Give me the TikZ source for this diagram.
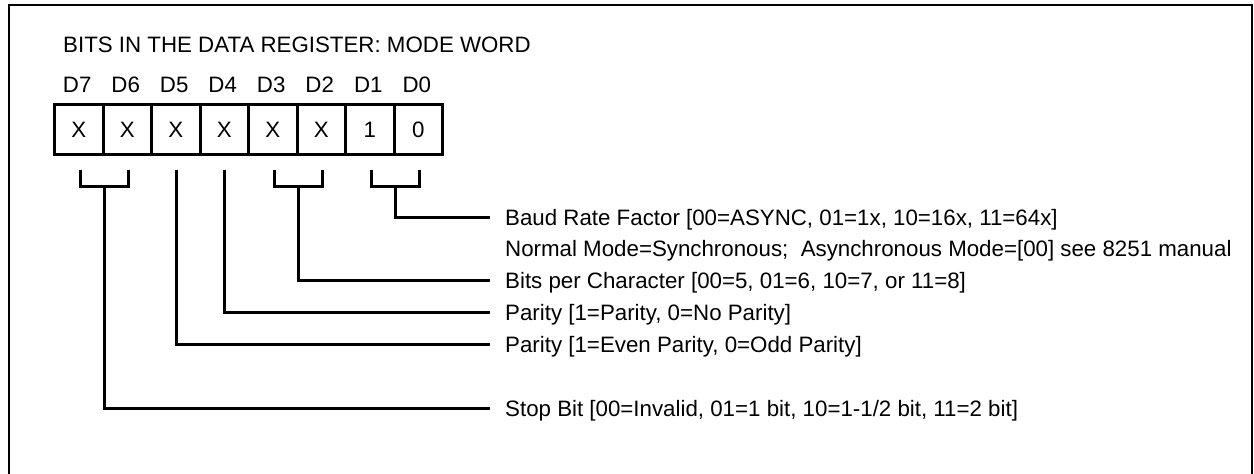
\documentclass[tikz,border=0pt]{standalone}
\usepackage{fontspec}
\setmainfont{Liberation Sans}
\usetikzlibrary{calc}
\begin{document}
\begin{tikzpicture}[x=1pt,y=-1pt,
  every node/.style={font=\fontsize{22.3pt}{26pt}\selectfont},
  cell/.style={draw,line width=3pt,minimum width=48.5pt,minimum height=50pt,inner sep=0pt,anchor=north west},
  bitname/.style={anchor=base},
  lbl/.style={anchor=west,inner xsep=17pt,inner ysep=0pt,text height=16pt,text depth=0pt},
  wire/.style={line width=3pt,line cap=rect}]
  \useasboundingbox (0,0) rectangle (1254,474);
  % open frame
  \draw[line width=2pt] (8.5,474) -- (8.5,5) -- (1252,5) -- (1252,474);
  % heading
  \node[anchor=base west,inner sep=0pt] (title) at (63,52) {BITS IN THE DATA REGISTER: MODE WORD};
  % register cells, D7 on the left
  \foreach \v/\n [count=\i from 0] in {X/7,X/6,X/5,X/4,X/3,X/2,1/1,0/0} {
    \node[cell] (b\n) at (53+48.5*\i,103) {\v};
    \node[bitname] (d\n) at (77.25+48.5*\i,92) {D\n};
  }
  % descriptions
  \node[lbl] (baud)  at (488,217) {Baud Rate Factor [00=ASYNC, 01=1x, 10=16x, 11=64x]};
  \node[lbl] (mode)  at (488,248) {Normal Mode=Synchronous;\ \ Asynchronous Mode=[00] see 8251 manual};
  \node[lbl] (chars) at (488,280) {Bits per Character [00=5, 01=6, 10=7, or 11=8]};
  \node[lbl] (par)   at (488,312) {Parity [1=Parity, 0=No Parity]};
  \node[lbl] (even)  at (488,344) {Parity [1=Even Parity, 0=Odd Parity]};
  \node[lbl] (stop)  at (488,408) {Stop Bit [00=Invalid, 01=1 bit, 10=1-1/2 bit, 11=2 bit]};
  % brackets under the cells
  \foreach \a/\b in {7/6,3/2,1/0} {
    \draw[wire] ($(b\a.south)+(1.5,15)$) -- ($(b\a.south)+(1.5,30)$) -- ($(b\b.south)+(1.5,30)$) -- ($(b\b.south)+(1.5,15)$);
    \coordinate (m\a) at ($(b\a.south)!0.5!(b\b.south)+(1.5,30)$);
  }
  \coordinate (m5) at ($(b5.south)+(0.5,15)$);
  \coordinate (m4) at ($(b4.south)+(0.5,15)$);
  % leaders to the descriptions
  \draw[wire] (m1) |- (baud.west);
  \draw[wire] (m3) |- (chars.west);
  \draw[wire] (m4) |- (par.west);
  \draw[wire] (m5) |- (even.west);
  \draw[wire] (m7) |- (stop.west);
\end{tikzpicture}
\end{document}
